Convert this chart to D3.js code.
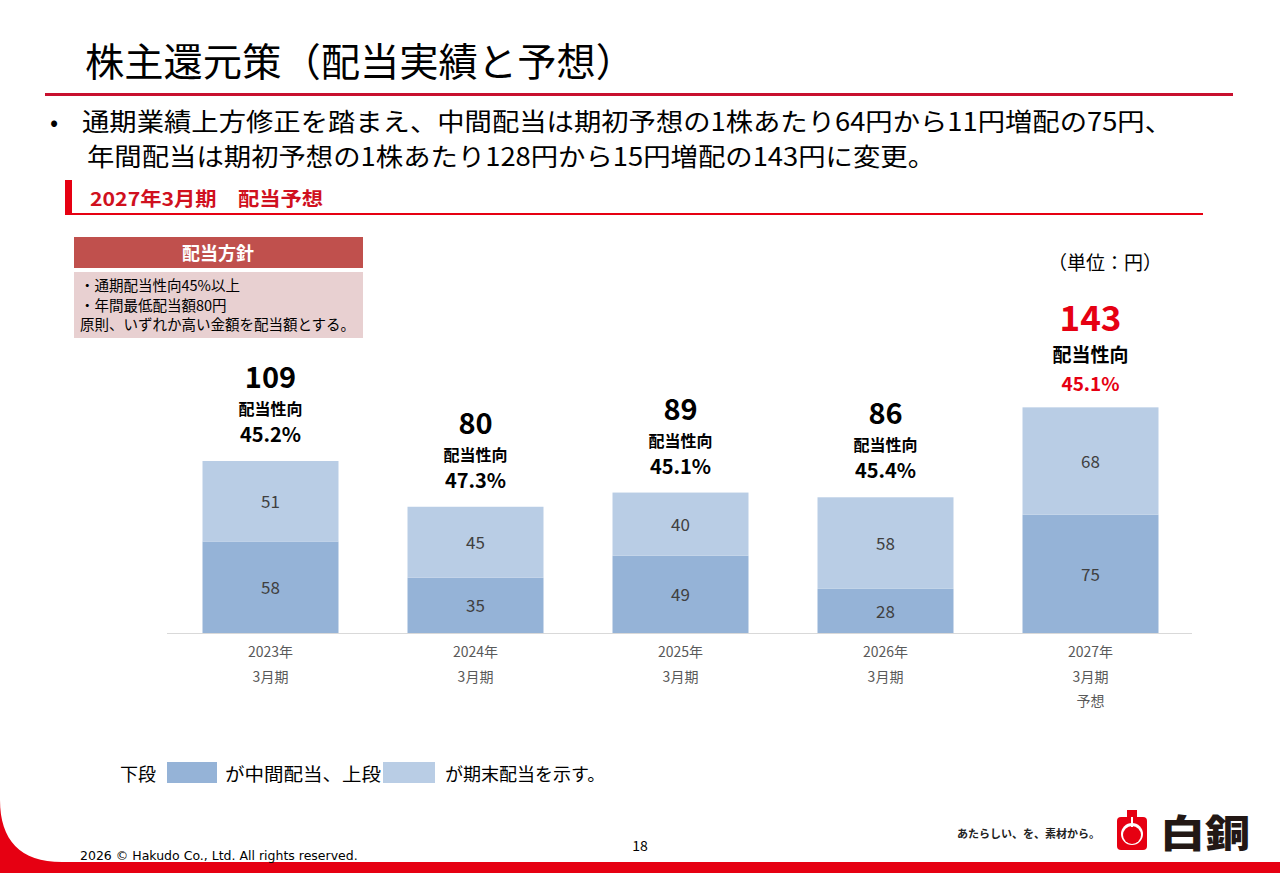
<!DOCTYPE html>
<html>
<head>
<meta charset="utf-8">
<script src="https://cdn.jsdelivr.net/npm/d3@7"></script>
<style>
  body { margin: 0; background: #fff; }
  svg { display: block; font-family: "Noto Sans CJK JP", "Noto Sans", sans-serif; }
</style>
</head>
<body>
<script>
// dividend per share (yen), fiscal years ending March
const categories = ["2023年3月期", "2024年3月期", "2025年3月期", "2026年3月期", "2027年3月期予想"];
const tickLines = [["2023年", "3月期"], ["2024年", "3月期"], ["2025年", "3月期"], ["2026年", "3月期"], ["2027年", "3月期", "予想"]];
const interim = [58, 35, 49, 28, 75];   // 中間配当 (lower)
const yearEnd = [51, 45, 40, 58, 68];   // 期末配当 (upper)
const totals = [109, 80, 89, 86, 143];
const payout = ["45.2%", "47.3%", "45.1%", "45.4%", "45.1%"];
const forecast = [false, false, false, false, true];

function main() {
  const W = 1280, H = 886;
  const red = "#e60012";

  const svg = d3.select("body").append("svg")
      .attr("width", W)
      .attr("height", H);

  // title + rule
  svg.append("text")
      .attr("x", 85).attr("y", 76)
      .attr("font-size", "39px")
      .attr("textLength", 550).attr("lengthAdjust", "spacingAndGlyphs")
      .attr("fill", "#000")
      .text("株主還元策（配当実績と予想）");
  svg.append("rect")
      .attr("x", 45).attr("y", 93).attr("width", 1188).attr("height", 3)
      .attr("fill", "#c8102e");

  // bullet text
  svg.append("text").attr("x", 50).attr("y", 131).attr("font-size", "24px").text("•");
  svg.append("text")
      .attr("x", 82).attr("y", 131)
      .attr("font-size", "25px")
      .attr("textLength", 1090).attr("lengthAdjust", "spacingAndGlyphs")
      .text("通期業績上方修正を踏まえ、中間配当は期初予想の1株あたり64円から11円増配の75円、");
  svg.append("text")
      .attr("x", 87).attr("y", 166)
      .attr("font-size", "25px")
      .attr("textLength", 848).attr("lengthAdjust", "spacingAndGlyphs")
      .text("年間配当は期初予想の1株あたり128円から15円増配の143円に変更。");

  // section heading
  svg.append("rect").attr("x", 65).attr("y", 180).attr("width", 7).attr("height", 35).attr("fill", red);
  svg.append("rect").attr("x", 65).attr("y", 213).attr("width", 1138).attr("height", 2).attr("fill", red);
  svg.append("text")
      .attr("x", 90).attr("y", 206)
      .attr("font-size", "19px").attr("font-weight", "bold")
      .attr("textLength", 233).attr("lengthAdjust", "spacingAndGlyphs")
      .attr("fill", "#d0101e")
      .text("2027年3月期\u3000配当予想");

  // policy box
  svg.append("rect").attr("x", 74).attr("y", 237).attr("width", 289).attr("height", 31).attr("fill", "#c0504d");
  svg.append("text")
      .attr("x", 218).attr("y", 260)
      .attr("text-anchor", "middle")
      .attr("font-size", "18px").attr("font-weight", "bold").attr("fill", "#fff")
      .text("配当方針");
  svg.append("rect").attr("x", 74).attr("y", 272).attr("width", 289).attr("height", 66).attr("fill", "#e8d0d1");
  const policy = ["・通期配当性向45%以上", "・年間最低配当額80円", "原則、いずれか高い金額を配当額とする。"];
  svg.append("g").selectAll("text").data(policy).join("text")
      .attr("x", 80).attr("y", (d, i) => 291 + i * 19.5)
      .attr("font-size", "14.5px").attr("fill", "#000")
      .text(d => d);

  // unit
  svg.append("text")
      .attr("x", 1162).attr("y", 270)
      .attr("text-anchor", "end")
      .attr("font-size", "19px").attr("fill", "#000")
      .text("（単位：円）");

  // scales
  const base = 633;
  const x = d3.scaleBand()
      .domain(categories)
      .range([168, 1193])
      .paddingInner(69 / 205)
      .paddingOuter(34.5 / 205);
  const y = d3.scaleLinear()
      .domain([0, 100])
      .range([base, base - 157.8]);

  const rows = categories.map((c, i) => ({
    cat: c, lines: tickLines[i], lo: interim[i], hi: yearEnd[i],
    total: totals[i], payout: payout[i], fc: forecast[i]
  }));

  const g = svg.append("g");

  // lower segment: interim
  g.selectAll("rect.lo").data(rows).join("rect")
      .attr("class", "lo")
      .attr("x", d => x(d.cat))
      .attr("y", d => y(d.lo))
      .attr("width", x.bandwidth())
      .attr("height", d => base - y(d.lo))
      .attr("fill", "#95b3d7");
  // upper segment: year-end
  g.selectAll("rect.hi").data(rows).join("rect")
      .attr("class", "hi")
      .attr("x", d => x(d.cat))
      .attr("y", d => y(d.lo + d.hi))
      .attr("width", x.bandwidth())
      .attr("height", d => y(d.lo) - y(d.lo + d.hi))
      .attr("fill", "#b9cde5");

  // segment value labels
  const cx = d => x(d.cat) + x.bandwidth() / 2;
  g.selectAll("text.lo").data(rows).join("text")
      .attr("x", cx)
      .attr("y", d => (base + y(d.lo)) / 2 + 7)
      .attr("text-anchor", "middle")
      .attr("font-size", "17px").attr("fill", "#404040")
      .text(d => d.lo);
  g.selectAll("text.hi").data(rows).join("text")
      .attr("x", cx)
      .attr("y", d => (y(d.lo) + y(d.lo + d.hi)) / 2 + 7)
      .attr("text-anchor", "middle")
      .attr("font-size", "17px").attr("fill", "#404040")
      .text(d => d.hi);

  // x axis line
  svg.append("line")
      .attr("x1", 167).attr("x2", 1192)
      .attr("y1", base + 0.5).attr("y2", base + 0.5)
      .attr("stroke", "#d9d9d9").attr("stroke-width", 1);

  // tick labels (multi-line)
  const ticks = g.selectAll("g.tick").data(rows).join("g")
      .attr("class", "tick")
      .attr("transform", d => `translate(${cx(d)},0)`);
  ticks.selectAll("text").data(d => d.lines).join("text")
      .attr("x", 0)
      .attr("y", (d, i) => 657 + i * 24.5)
      .attr("text-anchor", "middle")
      .attr("font-size", "14px").attr("fill", "#595959")
      .text(d => d);

  // totals + payout ratio above each bar
  const top = d => y(d.total);
  g.selectAll("text.total").data(rows).join("text")
      .attr("x", cx)
      .attr("y", d => top(d) - (d.fc ? 76 : 73))
      .attr("text-anchor", "middle")
      .attr("font-weight", "bold")
      .attr("font-size", d => d.fc ? "35px" : "29px")
      .attr("fill", d => d.fc ? red : "#000")
      .text(d => d.total);
  g.selectAll("text.plabel").data(rows).join("text")
      .attr("x", cx)
      .attr("y", d => top(d) - (d.fc ? 45 : 46))
      .attr("text-anchor", "middle")
      .attr("font-weight", "bold")
      .attr("font-size", d => d.fc ? "19px" : "16px")
      .attr("fill", "#000")
      .text("配当性向");
  g.selectAll("text.ratio").data(rows).join("text")
      .attr("x", cx)
      .attr("y", d => top(d) - (d.fc ? 16 : 19))
      .attr("text-anchor", "middle")
      .attr("font-weight", "bold")
      .attr("font-size", d => d.fc ? "19px" : "20px")
      .attr("fill", d => d.fc ? red : "#000")
      .text(d => d.payout);

  // legend note
  svg.append("text").attr("x", 120).attr("y", 781).attr("font-size", "18px").text("下段");
  svg.append("rect").attr("x", 167).attr("y", 762).attr("width", 50).attr("height", 21).attr("fill", "#95b3d7");
  svg.append("text").attr("x", 225).attr("y", 781).attr("font-size", "18px")
      .attr("textLength", 156).attr("lengthAdjust", "spacingAndGlyphs")
      .text("が中間配当、上段");
  svg.append("rect").attr("x", 383).attr("y", 762).attr("width", 52).attr("height", 21).attr("fill", "#b9cde5");
  svg.append("text").attr("x", 445).attr("y", 781).attr("font-size", "18px").text("が期末配当を示す。");

  // footer
  svg.append("path")
      .attr("d", "M0,800 C0,840 20,862 62,862 L1280,862 L1280,873 L0,873 Z")
      .attr("fill", red);
  svg.append("text")
      .attr("x", 640).attr("y", 851)
      .attr("text-anchor", "middle")
      .attr("font-size", "14px").attr("fill", "#000")
      .text("18");
  svg.append("text")
      .attr("x", 80).attr("y", 860)
      .attr("font-family", "'DejaVu Sans', sans-serif")
      .attr("font-size", "12.5px").attr("fill", "#000")
      .text("2026 © Hakudo Co., Ltd. All rights reserved.");

  // logo
  svg.append("text")
      .attr("x", 1100).attr("y", 838)
      .attr("text-anchor", "end")
      .attr("font-size", "11px").attr("font-weight", "bold").attr("fill", "#222")
      .text("あたらしい、を、素材から。");
  const logo = svg.append("g").attr("transform", "translate(1132,834)");
  logo.append("rect").attr("x", -5).attr("y", -24).attr("width", 10).attr("height", 10).attr("fill", red);
  logo.append("rect").attr("x", -15).attr("y", -17).attr("width", 30).attr("height", 33).attr("rx", 4).attr("fill", red);
  logo.append("circle").attr("cx", 0).attr("cy", 0).attr("r", 11).attr("fill", "#fff");
  logo.append("circle").attr("cx", 0).attr("cy", 1).attr("r", 9).attr("fill", red);
  logo.append("rect").attr("x", -1).attr("y", -17).attr("width", 2).attr("height", 10).attr("fill", "#fff");
  svg.append("text")
      .attr("x", 1160).attr("y", 847)
      .attr("font-size", "38px").attr("font-weight", "900").attr("fill", "#231815")
      .attr("textLength", 90).attr("lengthAdjust", "spacingAndGlyphs")
      .text("白銅");
}

main();
</script>
</body>
</html>
